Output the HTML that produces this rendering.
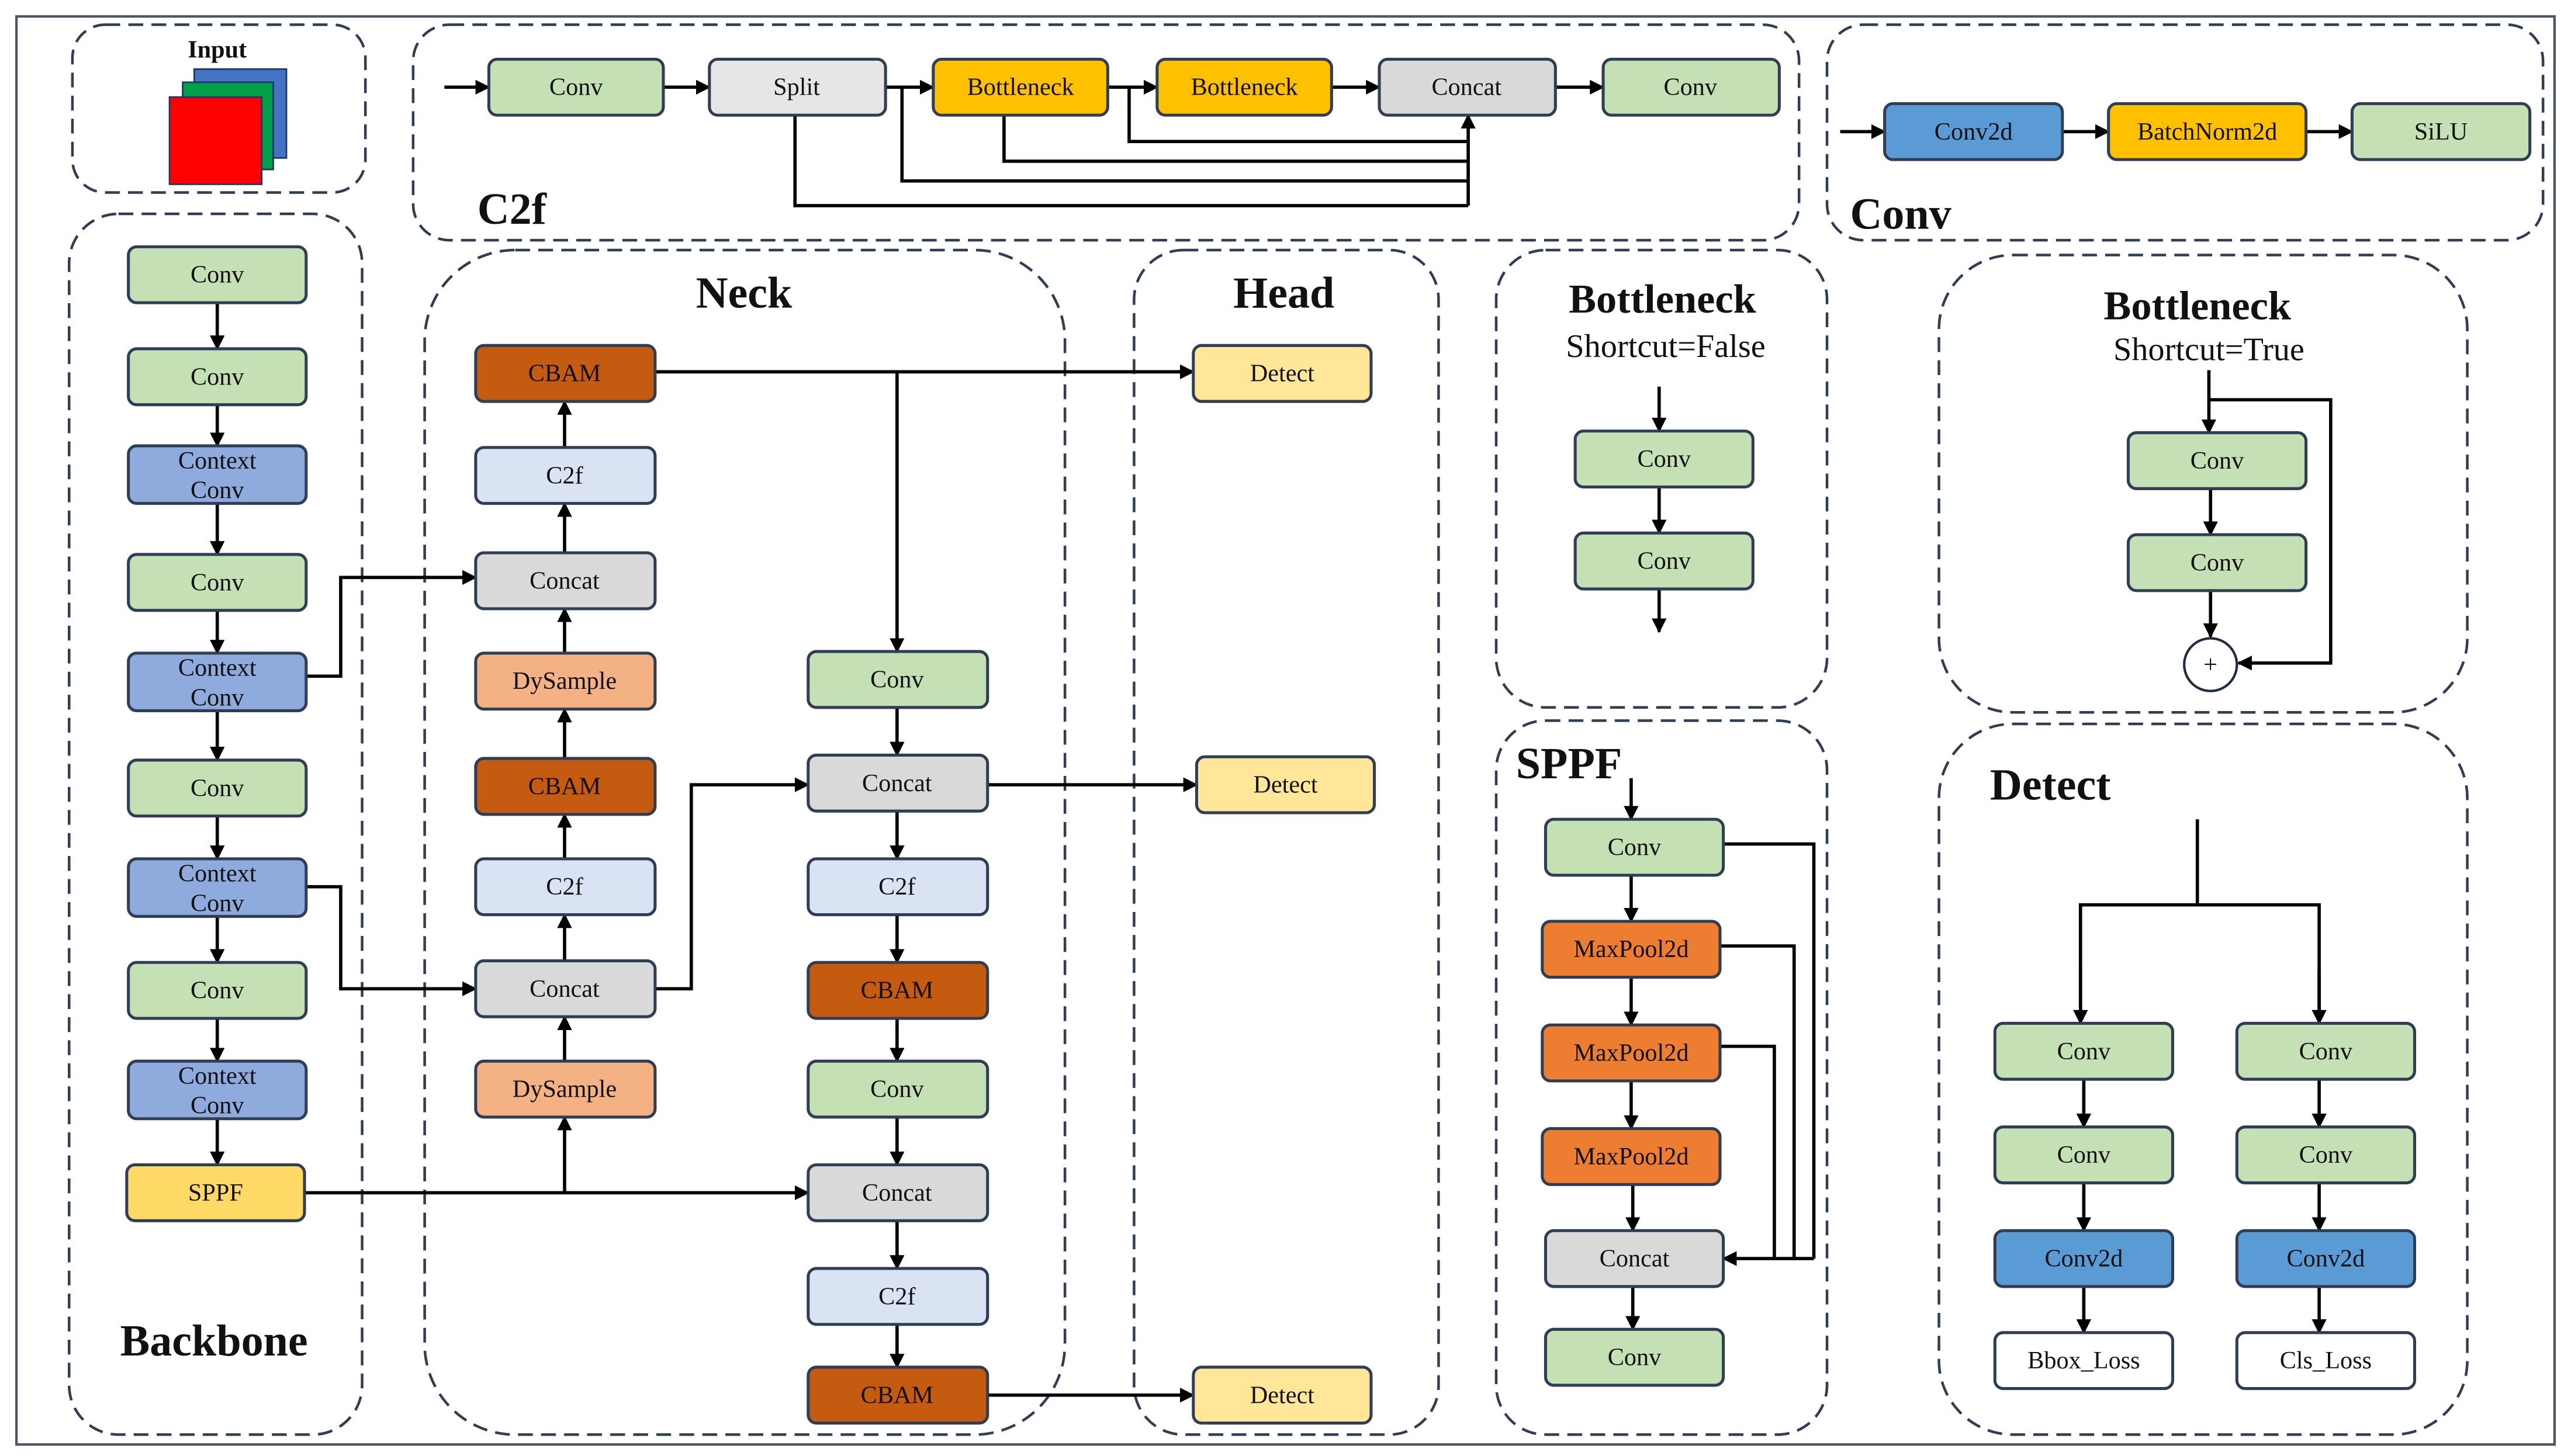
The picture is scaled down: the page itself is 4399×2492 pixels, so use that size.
<!DOCTYPE html>
<html><head><meta charset="utf-8"><style>
html,body{margin:0;padding:0;background:#fff}
svg{display:block}
text{font-family:"Liberation Serif",serif;fill:#111}
.n{font-size:15px;text-anchor:middle;dominant-baseline:central}
.t{font-weight:bold;font-size:27px}
.d{fill:none;stroke:#2f3e55;stroke-width:1.6;stroke-dasharray:9 5}
.l{fill:none;stroke:#000;stroke-width:2}
</style></head><body>
<svg width="4399" height="2492" viewBox="0 0 1562 885" preserveAspectRatio="none" xmlns="http://www.w3.org/2000/svg">
<defs>
<marker id="a" viewBox="0 0 10 10" refX="9" refY="5" markerWidth="4.5" markerHeight="4.5" orient="auto"><path d="M0,0 L10,5 L0,10 z" fill="#000"/></marker>
</defs>
<rect x="10" y="10" width="1542" height="868" fill="#fff" stroke="#4a5565" stroke-width="1.5"/>

<!-- dashed groups -->
<rect class="d" x="44" y="15" width="178" height="102" rx="20"/>
<rect class="d" x="42" y="130" width="178" height="742" rx="30"/>
<rect class="d" x="251" y="15" width="842" height="131" rx="22"/>
<rect class="d" x="1110" y="15" width="435" height="131" rx="22"/>
<rect class="d" x="258" y="152" width="389" height="720" rx="55"/>
<rect class="d" x="689" y="152" width="185" height="720" rx="30"/>
<rect class="d" x="909" y="152" width="201" height="278" rx="30"/>
<rect class="d" x="1178" y="155" width="321" height="278" rx="45"/>
<rect class="d" x="909" y="438" width="201" height="434" rx="30"/>
<rect class="d" x="1178" y="440" width="321" height="432" rx="45"/>

<!-- titles -->
<text x="132" y="35" style="font-weight:bold;font-size:15px" text-anchor="middle">Input</text>
<rect x="118" y="42" width="56" height="54" fill="#4472c4" stroke="#1f3864"/>
<rect x="111" y="50" width="55" height="53" fill="#00a04a" stroke="#1f3864"/>
<rect x="103" y="59" width="56" height="53" fill="#ff0000" stroke="#1f3864"/>
<text class="t" x="130" y="824" text-anchor="middle">Backbone</text>
<text class="t" x="290" y="136">C2f</text>
<text class="t" x="1124" y="139">Conv</text>
<text class="t" x="452" y="187" text-anchor="middle">Neck</text>
<text class="t" x="780" y="187" text-anchor="middle">Head</text>
<text class="t" x="1010" y="190" text-anchor="middle" style="font-size:25px">Bottleneck</text>
<text x="1012" y="217" text-anchor="middle" style="font-size:20px">Shortcut=False</text>
<text class="t" x="1335" y="194" text-anchor="middle" style="font-size:25px">Bottleneck</text>
<text x="1342" y="219" text-anchor="middle" style="font-size:20px">Shortcut=True</text>
<text class="t" x="921" y="473">SPPF</text>
<text class="t" x="1209" y="486">Detect</text>

<!-- connectors -->
<g class="l">
<!-- backbone -->
<line x1="132" y1="184" x2="132" y2="212" marker-end="url(#a)"/>
<line x1="132" y1="246" x2="132" y2="271" marker-end="url(#a)"/>
<line x1="132" y1="306" x2="132" y2="337" marker-end="url(#a)"/>
<line x1="132" y1="371" x2="132" y2="397" marker-end="url(#a)"/>
<line x1="132" y1="432" x2="132" y2="462" marker-end="url(#a)"/>
<line x1="132" y1="496" x2="132" y2="522" marker-end="url(#a)"/>
<line x1="132" y1="557" x2="132" y2="585" marker-end="url(#a)"/>
<line x1="132" y1="619" x2="132" y2="645" marker-end="url(#a)"/>
<line x1="132" y1="680" x2="132" y2="708" marker-end="url(#a)"/>
<polyline points="186,411 207,411 207,351 289,351" marker-end="url(#a)"/>
<polyline points="186,539 207,539 207,601 289,601" marker-end="url(#a)"/>
<line x1="185" y1="725" x2="491" y2="725" marker-end="url(#a)"/>
<line x1="343" y1="725" x2="343" y2="679" marker-end="url(#a)"/>
<!-- neck left up -->
<line x1="343" y1="645" x2="343" y2="618" marker-end="url(#a)"/>
<line x1="343" y1="584" x2="343" y2="556" marker-end="url(#a)"/>
<line x1="343" y1="522" x2="343" y2="495" marker-end="url(#a)"/>
<line x1="343" y1="461" x2="343" y2="431" marker-end="url(#a)"/>
<line x1="343" y1="397" x2="343" y2="370" marker-end="url(#a)"/>
<line x1="343" y1="336" x2="343" y2="306" marker-end="url(#a)"/>
<line x1="343" y1="272" x2="343" y2="244" marker-end="url(#a)"/>
<line x1="398" y1="226" x2="725" y2="226" marker-end="url(#a)"/>
<line x1="545" y1="226" x2="545" y2="396" marker-end="url(#a)"/>
<line x1="545" y1="430" x2="545" y2="459" marker-end="url(#a)"/>
<polyline points="398,601 420,601 420,477 491,477" marker-end="url(#a)"/>
<line x1="600" y1="477" x2="727" y2="477" marker-end="url(#a)"/>
<line x1="545" y1="493" x2="545" y2="522" marker-end="url(#a)"/>
<line x1="545" y1="556" x2="545" y2="585" marker-end="url(#a)"/>
<line x1="545" y1="619" x2="545" y2="645" marker-end="url(#a)"/>
<line x1="545" y1="679" x2="545" y2="708" marker-end="url(#a)"/>
<line x1="545" y1="742" x2="545" y2="771" marker-end="url(#a)"/>
<line x1="545" y1="805" x2="545" y2="831" marker-end="url(#a)"/>
<line x1="600" y1="848" x2="725" y2="848" marker-end="url(#a)"/>
<!-- c2f -->
<line x1="270" y1="53" x2="297" y2="53" marker-end="url(#a)"/>
<line x1="403" y1="53" x2="431" y2="53" marker-end="url(#a)"/>
<line x1="538" y1="53" x2="567" y2="53" marker-end="url(#a)"/>
<line x1="673" y1="53" x2="703" y2="53" marker-end="url(#a)"/>
<line x1="809" y1="53" x2="838" y2="53" marker-end="url(#a)"/>
<line x1="945" y1="53" x2="974" y2="53" marker-end="url(#a)"/>
<polyline points="483,70 483,125 892,125"/>
<polyline points="548,53 548,110 892,110"/>
<polyline points="610,70 610,98 892,98"/>
<polyline points="686,53 686,86 892,86"/>
<line x1="892" y1="125" x2="892" y2="70" marker-end="url(#a)"/>
<!-- conv -->
<line x1="1118" y1="80" x2="1145" y2="80" marker-end="url(#a)"/>
<line x1="1253" y1="80" x2="1281" y2="80" marker-end="url(#a)"/>
<line x1="1401" y1="80" x2="1429" y2="80" marker-end="url(#a)"/>
<!-- bottleneck false -->
<line x1="1008" y1="235" x2="1008" y2="262" marker-end="url(#a)"/>
<line x1="1008" y1="296" x2="1008" y2="324" marker-end="url(#a)"/>
<line x1="1008" y1="358" x2="1008" y2="384" marker-end="url(#a)"/>
<!-- bottleneck true -->
<line x1="1342" y1="225" x2="1342" y2="263" marker-end="url(#a)"/>
<polyline points="1342,243 1416,243 1416,403 1360,403" marker-end="url(#a)"/>
<line x1="1343" y1="297" x2="1343" y2="325" marker-end="url(#a)"/>
<line x1="1343" y1="359" x2="1343" y2="387" marker-end="url(#a)"/>
<!-- sppf -->
<line x1="991" y1="473" x2="991" y2="498" marker-end="url(#a)"/>
<line x1="991" y1="532" x2="991" y2="560" marker-end="url(#a)"/>
<line x1="991" y1="594" x2="991" y2="623" marker-end="url(#a)"/>
<line x1="991" y1="657" x2="991" y2="686" marker-end="url(#a)"/>
<line x1="992" y1="720" x2="992" y2="748" marker-end="url(#a)"/>
<line x1="992" y1="782" x2="992" y2="808" marker-end="url(#a)"/>
<polyline points="1047,513 1102,513 1102,765"/>
<polyline points="1045,575 1090,575 1090,765"/>
<polyline points="1045,636 1078,636 1078,765"/>
<line x1="1102" y1="765" x2="1047" y2="765" marker-end="url(#a)"/>
<!-- detect -->
<line x1="1335" y1="498" x2="1335" y2="550"/>
<polyline points="1264,622 1264,550 1409,550 1409,622"/>
<line x1="1264" y1="590" x2="1264" y2="622" marker-end="url(#a)"/>
<line x1="1409" y1="590" x2="1409" y2="622" marker-end="url(#a)"/>
<line x1="1266" y1="656" x2="1266" y2="685" marker-end="url(#a)"/>
<line x1="1409" y1="656" x2="1409" y2="685" marker-end="url(#a)"/>
<line x1="1266" y1="719" x2="1266" y2="748" marker-end="url(#a)"/>
<line x1="1409" y1="719" x2="1409" y2="748" marker-end="url(#a)"/>
<line x1="1266" y1="782" x2="1266" y2="810" marker-end="url(#a)"/>
<line x1="1409" y1="782" x2="1409" y2="810" marker-end="url(#a)"/>
</g>
<circle cx="1343" cy="404" r="16" fill="#fff" stroke="#1f2d40" stroke-width="1.5"/>
<text class="n" x="1343" y="404">+</text>

<!-- nodes -->
<g stroke="#2f3e55" stroke-width="1.8">
<!-- backbone -->
<rect x="78" y="150" width="108" height="34" rx="5" fill="#c5e0b4"/>
<rect x="78" y="212" width="108" height="34" rx="5" fill="#c5e0b4"/>
<rect x="78" y="271" width="108" height="35" rx="5" fill="#8faadc"/>
<rect x="78" y="337" width="108" height="34" rx="5" fill="#c5e0b4"/>
<rect x="78" y="397" width="108" height="35" rx="5" fill="#8faadc"/>
<rect x="78" y="462" width="108" height="34" rx="5" fill="#c5e0b4"/>
<rect x="78" y="522" width="108" height="35" rx="5" fill="#8faadc"/>
<rect x="78" y="585" width="108" height="34" rx="5" fill="#c5e0b4"/>
<rect x="78" y="645" width="108" height="35" rx="5" fill="#8faadc"/>
<rect x="77" y="708" width="108" height="34" rx="5" fill="#ffd966"/>
<!-- c2f -->
<rect x="297" y="36" width="106" height="34" rx="5" fill="#c5e0b4"/>
<rect x="431" y="36" width="107" height="34" rx="5" fill="#e7e6e6"/>
<rect x="567" y="36" width="106" height="34" rx="5" fill="#ffc000"/>
<rect x="703" y="36" width="106" height="34" rx="5" fill="#ffc000"/>
<rect x="838" y="36" width="107" height="34" rx="5" fill="#d9d9d9"/>
<rect x="974" y="36" width="107" height="34" rx="5" fill="#c5e0b4"/>
<!-- conv -->
<rect x="1145" y="63" width="108" height="34" rx="5" fill="#5b9bd5"/>
<rect x="1281" y="63" width="120" height="34" rx="5" fill="#ffc000"/>
<rect x="1429" y="63" width="108" height="34" rx="5" fill="#c5e0b4"/>
<!-- neck left -->
<rect x="289" y="210" width="109" height="34" rx="5" fill="#c55a11"/>
<rect x="289" y="272" width="109" height="34" rx="5" fill="#dae3f3"/>
<rect x="289" y="336" width="109" height="34" rx="5" fill="#d9d9d9"/>
<rect x="289" y="397" width="109" height="34" rx="5" fill="#f4b183"/>
<rect x="289" y="461" width="109" height="34" rx="5" fill="#c55a11"/>
<rect x="289" y="522" width="109" height="34" rx="5" fill="#dae3f3"/>
<rect x="289" y="584" width="109" height="34" rx="5" fill="#d9d9d9"/>
<rect x="289" y="645" width="109" height="34" rx="5" fill="#f4b183"/>
<!-- neck right -->
<rect x="491" y="396" width="109" height="34" rx="5" fill="#c5e0b4"/>
<rect x="491" y="459" width="109" height="34" rx="5" fill="#d9d9d9"/>
<rect x="491" y="522" width="109" height="34" rx="5" fill="#dae3f3"/>
<rect x="491" y="585" width="109" height="34" rx="5" fill="#c55a11"/>
<rect x="491" y="645" width="109" height="34" rx="5" fill="#c5e0b4"/>
<rect x="491" y="708" width="109" height="34" rx="5" fill="#d9d9d9"/>
<rect x="491" y="771" width="109" height="34" rx="5" fill="#dae3f3"/>
<rect x="491" y="831" width="109" height="34" rx="5" fill="#c55a11"/>
<!-- head -->
<rect x="725" y="210" width="108" height="34" rx="5" fill="#ffe699"/>
<rect x="727" y="460" width="108" height="34" rx="5" fill="#ffe699"/>
<rect x="725" y="831" width="108" height="34" rx="5" fill="#ffe699"/>
<!-- bottlenecks -->
<rect x="957" y="262" width="108" height="34" rx="5" fill="#c5e0b4"/>
<rect x="957" y="324" width="108" height="34" rx="5" fill="#c5e0b4"/>
<rect x="1293" y="263" width="108" height="34" rx="5" fill="#c5e0b4"/>
<rect x="1293" y="325" width="108" height="34" rx="5" fill="#c5e0b4"/>
<!-- sppf -->
<rect x="939" y="498" width="108" height="34" rx="5" fill="#c5e0b4"/>
<rect x="937" y="560" width="108" height="34" rx="5" fill="#ed7d31"/>
<rect x="937" y="623" width="108" height="34" rx="5" fill="#ed7d31"/>
<rect x="937" y="686" width="108" height="34" rx="5" fill="#ed7d31"/>
<rect x="939" y="748" width="108" height="34" rx="5" fill="#d9d9d9"/>
<rect x="939" y="808" width="108" height="34" rx="5" fill="#c5e0b4"/>
<!-- detect -->
<rect x="1212" y="622" width="108" height="34" rx="5" fill="#c5e0b4"/>
<rect x="1212" y="685" width="108" height="34" rx="5" fill="#c5e0b4"/>
<rect x="1212" y="748" width="108" height="34" rx="5" fill="#5b9bd5"/>
<rect x="1212" y="810" width="108" height="34" rx="5" fill="#fff"/>
<rect x="1359" y="622" width="108" height="34" rx="5" fill="#c5e0b4"/>
<rect x="1359" y="685" width="108" height="34" rx="5" fill="#c5e0b4"/>
<rect x="1359" y="748" width="108" height="34" rx="5" fill="#5b9bd5"/>
<rect x="1359" y="810" width="108" height="34" rx="5" fill="#fff"/>
</g>

<!-- labels -->
<g>
<text class="n" x="132" y="167">Conv</text>
<text class="n" x="132" y="229">Conv</text>
<text class="n" x="132" y="280">Context</text><text class="n" x="132" y="298">Conv</text>
<text class="n" x="132" y="354">Conv</text>
<text class="n" x="132" y="406">Context</text><text class="n" x="132" y="424">Conv</text>
<text class="n" x="132" y="479">Conv</text>
<text class="n" x="132" y="531">Context</text><text class="n" x="132" y="549">Conv</text>
<text class="n" x="132" y="602">Conv</text>
<text class="n" x="132" y="654">Context</text><text class="n" x="132" y="672">Conv</text>
<text class="n" x="131" y="725">SPPF</text>
<text class="n" x="350" y="53">Conv</text>
<text class="n" x="484" y="53">Split</text>
<text class="n" x="620" y="53">Bottleneck</text>
<text class="n" x="756" y="53">Bottleneck</text>
<text class="n" x="891" y="53">Concat</text>
<text class="n" x="1027" y="53">Conv</text>
<text class="n" x="1199" y="80">Conv2d</text>
<text class="n" x="1341" y="80">BatchNorm2d</text>
<text class="n" x="1483" y="80">SiLU</text>
<text class="n" x="343" y="227">CBAM</text>
<text class="n" x="343" y="289">C2f</text>
<text class="n" x="343" y="353">Concat</text>
<text class="n" x="343" y="414">DySample</text>
<text class="n" x="343" y="478">CBAM</text>
<text class="n" x="343" y="539">C2f</text>
<text class="n" x="343" y="601">Concat</text>
<text class="n" x="343" y="662">DySample</text>
<text class="n" x="545" y="413">Conv</text>
<text class="n" x="545" y="476">Concat</text>
<text class="n" x="545" y="539">C2f</text>
<text class="n" x="545" y="602">CBAM</text>
<text class="n" x="545" y="662">Conv</text>
<text class="n" x="545" y="725">Concat</text>
<text class="n" x="545" y="788">C2f</text>
<text class="n" x="545" y="848">CBAM</text>
<text class="n" x="779" y="227">Detect</text>
<text class="n" x="781" y="477">Detect</text>
<text class="n" x="779" y="848">Detect</text>
<text class="n" x="1011" y="279">Conv</text>
<text class="n" x="1011" y="341">Conv</text>
<text class="n" x="1347" y="280">Conv</text>
<text class="n" x="1347" y="342">Conv</text>
<text class="n" x="993" y="515">Conv</text>
<text class="n" x="991" y="577">MaxPool2d</text>
<text class="n" x="991" y="640">MaxPool2d</text>
<text class="n" x="991" y="703">MaxPool2d</text>
<text class="n" x="993" y="765">Concat</text>
<text class="n" x="993" y="825">Conv</text>
<text class="n" x="1266" y="639">Conv</text>
<text class="n" x="1266" y="702">Conv</text>
<text class="n" x="1266" y="765">Conv2d</text>
<text class="n" x="1266" y="827">Bbox_Loss</text>
<text class="n" x="1413" y="639">Conv</text>
<text class="n" x="1413" y="702">Conv</text>
<text class="n" x="1413" y="765">Conv2d</text>
<text class="n" x="1413" y="827">Cls_Loss</text>
</g>
</svg>
</body></html>
